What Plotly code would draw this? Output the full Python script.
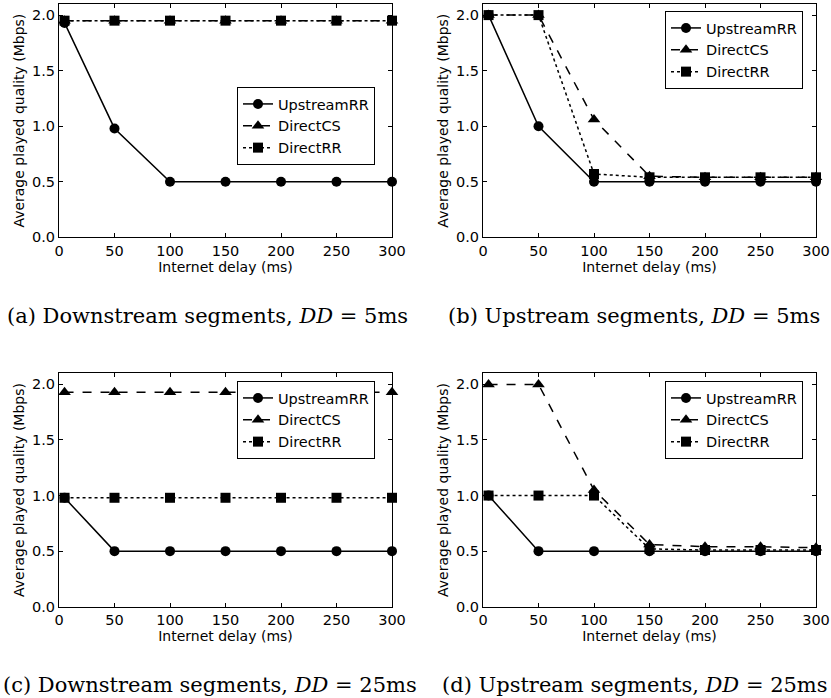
import plotly.graph_objects as go

delay = [5, 50, 100, 150, 200, 250, 300]
series_names = ["UpstreamRR", "DirectCS", "DirectRR"]

# panel (a) Downstream, DD=5ms
a_up = [1.93, 0.98, 0.50, 0.50, 0.50, 0.50, 0.50]
a_cs = [1.95, 1.95, 1.95, 1.95, 1.95, 1.95, 1.95]
a_rr = [1.95, 1.95, 1.95, 1.95, 1.95, 1.95, 1.95]
# panel (b) Upstream, DD=5ms
b_up = [2.00, 1.00, 0.50, 0.50, 0.50, 0.50, 0.50]
b_cs = [2.00, 2.00, 1.06, 0.55, 0.54, 0.54, 0.54]
b_rr = [2.00, 2.00, 0.57, 0.54, 0.54, 0.54, 0.54]
# panel (c) Downstream, DD=25ms
c_up = [0.98, 0.50, 0.50, 0.50, 0.50, 0.50, 0.50]
c_cs = [1.93, 1.93, 1.93, 1.93, 1.93, 1.93, 1.93]
c_rr = [0.98, 0.98, 0.98, 0.98, 0.98, 0.98, 0.98]
# panel (d) Upstream, DD=25ms
d_up = [1.00, 0.50, 0.50, 0.50, 0.50, 0.50, 0.50]
d_cs = [2.00, 2.00, 1.05, 0.56, 0.54, 0.54, 0.53]
d_rr = [1.00, 1.00, 1.00, 0.52, 0.51, 0.51, 0.51]

x_ticks = [0, 50, 100, 150, 200, 250, 300]
y_ticks = [0.0, 0.5, 1.0, 1.5, 2.0]
y_tick_text = ["0.0", "0.5", "1.0", "1.5", "2.0"]

captions = [
    "(a) Downstream segments, <i>DD</i> = 5ms",
    "(b) Upstream segments, <i>DD</i> = 5ms",
    "(c) Downstream segments, <i>DD</i> = 25ms",
    "(d) Upstream segments, <i>DD</i> = 25ms",
]

W, H = 831, 698
panels = [
    (a_up, a_cs, a_rr),
    (b_up, b_cs, b_rr),
    (c_up, c_cs, c_rr),
    (d_up, d_cs, d_rr),
]
# pixel boxes (left, right, top, bottom)
boxes = [(59, 392, 4, 237.3), (483, 816, 4, 237.3),
         (59, 392, 373.3, 606.7), (483, 816, 373.3, 606.7)]
legend_pos = [(237, 87), (665, 11), (237, 381), (665, 381)]
caption_pos = [(207, 316), (634, 316), (210, 685), (635, 685)]

styles = [
    dict(dash="solid", symbol="circle", size=10),
    dict(dash="dash", symbol="triangle-up", size=11),
    dict(dash="dot", symbol="square", size=10),
]

fig = go.Figure()
layout = {}
for i, (vals, box) in enumerate(zip(panels, boxes)):
    ax = "" if i == 0 else str(i + 1)
    leg = "legend" if i == 0 else f"legend{i+1}"
    for j, (name, v, st) in enumerate(zip(series_names, vals, styles)):
        fig.add_trace(go.Scatter(
            x=delay, y=v, name=name, mode="lines+markers",
            xaxis="x" + ax, yaxis="y" + ax, legend=leg,
            line=dict(color="black", width=1.5, dash=st["dash"]),
            marker=dict(color="black", symbol=st["symbol"], size=st["size"]),
            cliponaxis=False,
        ))
    l, r, t, b = box
    common = dict(showline=True, linecolor="black", linewidth=1, mirror="ticks",
                  ticks="inside", ticklen=4, tickcolor="black", showgrid=False,
                  zeroline=False, automargin=False,
                  tickfont=dict(family="DejaVu Sans", size=14.5, color="black"),
                  title_font=dict(family="DejaVu Sans", size=14, color="black"))
    layout["xaxis" + ax] = dict(common, domain=[l / W, r / W], anchor="y" + ax,
                                range=[0, 300], tickvals=x_ticks,
                                title=dict(text="Internet delay (ms)", standoff=0))
    layout["yaxis" + ax] = dict(common, domain=[1 - b / H, 1 - t / H], anchor="x" + ax,
                                range=[0, 2.1], tickvals=y_ticks, ticktext=y_tick_text,
                                title=dict(text="Average played quality (Mbps)", standoff=4))
    lx, ly = legend_pos[i]
    layout[leg] = dict(x=lx / W, y=1 - ly / H, xanchor="left", yanchor="top",
                       bordercolor="black", borderwidth=1, bgcolor="white",
                       font=dict(family="DejaVu Sans", size=14.5, color="black"),
                       itemwidth=30)

annotations = []
for cap, (cx, cy) in zip(captions, caption_pos):
    annotations.append(dict(text=cap, x=cx / W, y=1 - cy / H, xref="paper", yref="paper",
                            xanchor="center", yanchor="middle", showarrow=False,
                            font=dict(family="DejaVu Serif", size=21, color="black")))

fig.update_layout(width=W, height=H, margin=dict(l=0, r=0, t=0, b=0),
                  paper_bgcolor="white", plot_bgcolor="white",
                  annotations=annotations, **layout)
fig.write_html("out.html", config={"displayModeBar": False},
               post_script="document.body.style.margin='0';"
                           "document.documentElement.style.overflow='hidden';")
